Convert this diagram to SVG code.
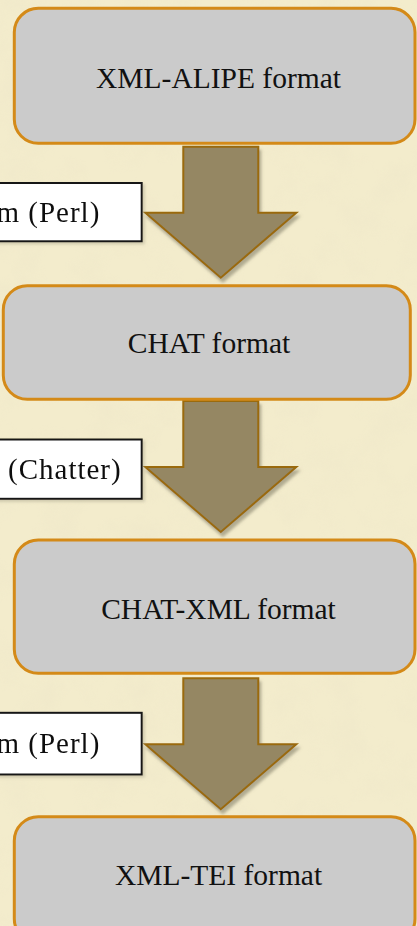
<svg xmlns="http://www.w3.org/2000/svg" xmlns:xlink="http://www.w3.org/1999/xlink" width="417" height="926" viewBox="0 0 417 926">
  <style>
    .box { fill: #CBCBCB; stroke: #D48A18; stroke-width: 3; }
    .boxtext { font-family: "Liberation Serif", "Times New Roman", serif; font-size: 29.5px; fill: #111; text-anchor: middle; }
    .lbl { fill: #FFFFFF; stroke: #141414; stroke-width: 2; }
    .lbltext { font-family: "Liberation Serif", "Times New Roman", serif; font-size: 29px; letter-spacing: 1px; fill: #111; text-anchor: end; }
    .arrow { fill: #958763; stroke: #9A6A10; stroke-width: 2; stroke-linejoin: miter; }
  </style>
  <defs>
    <filter id="paper" x="0" y="0" width="100%" height="100%">
      <feTurbulence type="fractalNoise" baseFrequency="0.025" numOctaves="4" seed="7" result="n"/>
      <feColorMatrix in="n" type="matrix" values="0 0 0 0 0.84  0 0 0 0 0.78  0 0 0 0 0.58  1.3 0 0 0 -0.55"/>
    </filter>
    <filter id="shadow" x="-20%" y="-20%" width="150%" height="150%">
      <feGaussianBlur in="SourceAlpha" stdDeviation="1.5"/>
      <feOffset dx="2" dy="4" result="b"/>
      <feFlood flood-color="#7a7660" flood-opacity="0.55"/>
      <feComposite in2="b" operator="in" result="s"/>
      <feMerge><feMergeNode in="s"/><feMergeNode in="SourceGraphic"/></feMerge>
    </filter>
    <filter id="lshadow" x="-10%" y="-20%" width="130%" height="150%">
      <feGaussianBlur in="SourceAlpha" stdDeviation="1.5"/>
      <feOffset dx="2" dy="2" result="b"/>
      <feFlood flood-color="#8a8670" flood-opacity="0.35"/>
      <feComposite in2="b" operator="in" result="s"/>
      <feMerge><feMergeNode in="s"/><feMergeNode in="SourceGraphic"/></feMerge>
    </filter>
    <path id="arrowShape" d="M-37.5,0 H37.5 V66 H75.5 L0,131 L-75.5,66 H-37.5 Z"/>
  </defs>

  <rect x="0" y="0" width="417" height="926" fill="#F3ECCC"/>
  <rect x="0" y="0" width="417" height="926" filter="url(#paper)" opacity="0.6"/>

  <g id="connectors">
    <g id="arrow1" filter="url(#shadow)"><use xlink:href="#arrowShape" class="arrow" x="220.8" y="146.7"/></g>
    <g id="arrow2" filter="url(#shadow)"><use xlink:href="#arrowShape" class="arrow" x="220.8" y="401"/></g>
    <g id="arrow3" filter="url(#shadow)"><use xlink:href="#arrowShape" class="arrow" x="220.8" y="678.3"/></g>
    <g id="label1" filter="url(#lshadow)">
      <rect class="lbl" x="-10" y="183" width="151.7" height="58.3"/>
      <text class="lbltext" x="100.3" y="222">m (Perl)</text>
    </g>
    <g id="label2" filter="url(#lshadow)">
      <rect class="lbl" x="-10" y="439.5" width="151.7" height="59.3"/>
      <text class="lbltext" x="121.7" y="478.5">(Chatter)</text>
    </g>
    <g id="label3" filter="url(#lshadow)">
      <rect class="lbl" x="-10" y="712.8" width="151.7" height="61.7"/>
      <text class="lbltext" x="100.3" y="752.5">m (Perl)</text>
    </g>
  </g>

  <g id="node-xml-alipe">
    <rect class="box" x="14.3" y="8.3" width="400.7" height="135" rx="24" ry="24"/>
    <text class="boxtext" x="218.5" y="88">XML-ALIPE format</text>
  </g>
  <g id="node-chat">
    <rect class="box" x="3.3" y="285.7" width="407" height="113.6" rx="24" ry="24"/>
    <text class="boxtext" x="209" y="353">CHAT format</text>
  </g>
  <g id="node-chat-xml">
    <rect class="box" x="14.3" y="540" width="400.7" height="133.3" rx="24" ry="24"/>
    <text class="boxtext" x="218.5" y="619">CHAT-XML format</text>
  </g>
  <g id="node-xml-tei">
    <rect class="box" x="14.3" y="816.7" width="400.7" height="126" rx="24" ry="24"/>
    <text class="boxtext" x="218.5" y="885">XML-TEI format</text>
  </g>
</svg>
